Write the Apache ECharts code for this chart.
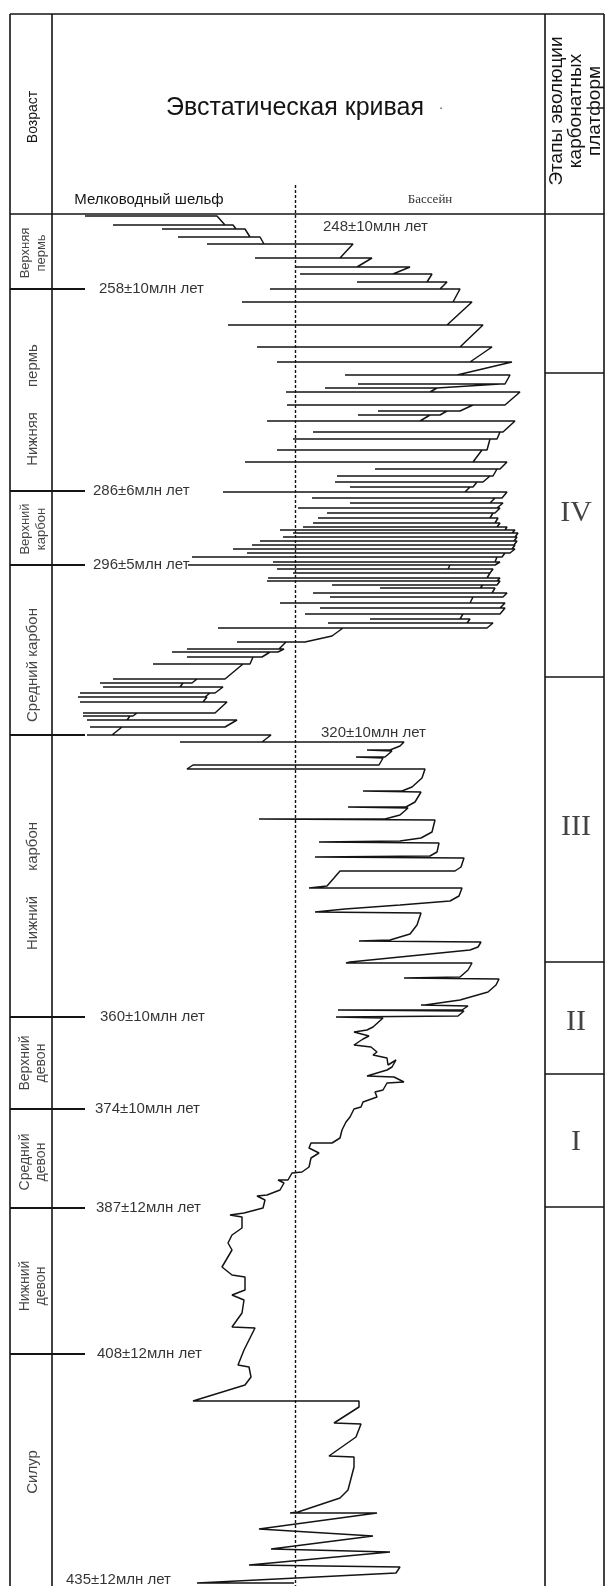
<!DOCTYPE html>
<html><head><meta charset="utf-8">
<script src="https://cdn.jsdelivr.net/npm/echarts@6/dist/echarts.min.js"></script>
<style>html,body{margin:0;padding:0;background:#fff}#c{width:606px;height:1586px}</style>
</head><body><div id="c"></div>
<script>
// ---- data (x: shelf -> basin units, y: position down the section) ----
const periodNames = ['Верхняя\nпермь', 'Нижняя      пермь', 'Верхний\nкарбон', 'Средний карбон',
  'Нижний      карбон', 'Верхний\nдевон', 'Средний\nдевон', 'Нижний\nдевон', 'Силур'];
const periodLabelAt = [39, 191, 315, 451, 672, 849, 948, 1072, 1258];
const periodBounds = [75, 277, 351, 521, 803, 895, 994, 1140];
const ageLabels = ['248±10млн лет', '258±10млн лет', '286±6млн лет', '296±5млн лет', '320±10млн лет',
  '360±10млн лет', '374±10млн лет', '387±12млн лет', '408±12млн лет', '435±12млн лет'];
const ageLabelAt = [[271, 13], [47, 75], [41, 277], [41, 351], [269, 519], [48, 803], [43, 895], [44, 994], [45, 1140], [14, 1366]];
const stageNames = ['IV', 'III', 'II', 'I'];
const stageLabelAt = [299, 613, 808, 928];
const stageBounds = [159, 463, 748, 860, 993];
const shelfBasinDivide = 243;
// Permian – Middle Carboniferous strokes: [position, arrival of previous hook, left tip, right tip]
const permianCarbStrokes = [
  [2,33,33,165],[11,173,61,181],[15,184,110,193],[23,198,126,208],[30,212,155,301],
  [44,288,203,320],[53,305,243,358],[60,341,248,380],[68,375,305,395],[75,388,218,408],
  [88,401,190,420],[111,395,176,431],[133,408,205,440],[148,418,225,460],[161,405,293,458],
  [170,453,306,448],[174,385,273,385],[178,378,234,468],[191,453,235,421],[197,408,326,395],
  [201,388,306,378],[207,368,215,463],[218,451,261,448],[225,445,241,438],[236,435,225,430],
  [248,421,193,455],[255,448,323,445],[262,441,285,438],[268,431,283,425],[273,421,298,418],
  [278,413,171,455],[284,450,260,443],[289,438,298,451],[294,445,246,448],[299,443,275,441],
  [304,438,266,446],[309,443,261,448],[313,445,251,455],[316,453,228,463],[319,460,241,466],
  [323,463,231,465],[327,462,208,465],[331,462,200,463],[335,460,181,463],[339,458,195,453],
  [343,450,140,445],[348,443,221,448],[351,443,136,398],[355,396,225,441],[359,438,241,438],
  [364,435,216,448],[367,445,215,448],[371,445,280,431],[374,428,328,443],[379,440,261,455],
  [383,451,278,421],[389,418,228,453],[394,448,268,453],[400,448,253,411],[405,408,318,418],
  [409,415,276,441],[414,435,166,291],[422,280,280,280],[428,253,185,234],[435,227,135,232],[438,226,120,218],
  [443,210,135,201],[450,198,101,191],[465,173,61,145],[469,140,48,131],[473,128,51,171],
  [479,163,28,158],[483,153,26,155],[488,151,28,175],[499,163,31,85],[502,81,31,78],
  [506,75,35,185],[513,173,38,70],[521,60,35,219]
];
// Lower Carboniferous curve, read point by point
const lowerCarbCurve = [
  [210,528],[128,528],[352,528],[348,532],[338,536],[315,536],[340,537],[333,543],[304,543],[331,544],
  [327,551],[141,551],[135,555],[373,555],[370,564],[360,573],[350,577],[311,577],[369,578],
  [363,588],[354,593],[296,593],[356,594],[348,601],[333,605],[207,605],[383,606],
  [380,618],[369,624],[348,627],[267,628],[387,629],[385,638],[378,642],[263,643],[412,644],
  [409,653],[403,657],[288,657],[282,664],[275,672],[257,674],[410,674],
  [407,682],[398,687],[348,691],[293,695],[263,698],[369,699],
  [365,711],[358,720],[338,726],[307,727],[429,728],
  [426,733],[418,736],[348,743],[298,748],[294,749],[420,749],
  [416,756],[408,763],[352,764],[447,765],
  [444,771],[436,778],[408,786],[373,791],[369,791],[416,792],
  [410,796],[286,796],[412,797],[406,802],[284,803],[331,804]
];
const devonianCurve = [
  [321,813],[315,816],[302,818],[317,822],[311,825],[302,831],[319,833],[325,838],
  [321,841],[335,844],[336,851],[344,846],[340,853],[335,856],[315,862],[342,863],[352,868],
  [335,869],[331,876],[323,878],[325,883],[311,888],[309,893],[302,895],[298,903],[294,908],
  [290,916],[288,924],[280,929],[259,929],[257,934],[267,939],[259,944],[257,953],[250,958],
  [240,959],[236,966],[226,966],[232,969],[228,976],[215,981],[205,982],[213,986],[211,994],
  [192,999],[178,1001],[190,1003],[190,1014],[180,1021],[176,1029],[180,1036],[170,1053],
  [180,1061],[193,1063],[193,1076],[180,1081],[192,1086],[190,1099],[180,1113],[203,1114],
  [192,1136],[186,1151],[197,1153],[199,1163],[193,1171],[141,1187]
];
const silurianCurve = [
  [307,1187],[307,1193],[282,1209],[309,1210],[304,1223],[277,1242],[302,1243],[302,1253],
  [296,1276],[288,1284],[273,1289],[246,1298],[238,1299],[325,1299],[207,1315],[321,1322],
  [219,1335],[338,1338],[197,1351],[348,1353],[344,1359],[145,1369],[242,1369]
];

// ---- build ----
const curve = [];
permianCarbStrokes.forEach(([y, a, l, r]) => { curve.push([a, y], [l, y], [r, y]); });
lowerCarbCurve.concat(devonianCurve, silurianCurve).forEach(p => curve.push(p));

const INK = '#141414';
const X0 = -42, X1 = 552, Y0 = -200, Y1 = 1372, MAIN_L = 0, MAIN_R = 493;
const frameLine = (a, b, w) => [{coord: a, lineStyle: {color: INK, width: w || 1.6, type: 'solid'}}, {coord: b}];
const markData = [];
[X0, MAIN_L, MAIN_R, X1].forEach(v => markData.push(frameLine([v, Y0], [v, Y1])));
[Y0, 0].forEach(v => markData.push(frameLine([X0, v], [X1, v])));
periodBounds.forEach(v => markData.push(frameLine([X0, v], [33, v], 1.8)));
stageBounds.forEach(v => markData.push(frameLine([MAIN_R, v], [X1, v], 1.6)));
markData.push([{coord: [shelfBasinDivide, -29], lineStyle: {color: INK, width: 1.4, type: [3, 2]}}, {coord: [shelfBasinDivide, Y1]}]);

const chart = echarts.init(document.getElementById('c'), null, {renderer: 'canvas'});
const axisOff = {show: false};
chart.setOption({
  animation: false,
  backgroundColor: '#fff',
  grid: {left: 10, top: 14, width: 594, height: 1572, containLabel: false},
  xAxis: {type: 'value', min: X0, max: X1, ...axisOff},
  yAxis: {type: 'value', min: Y0, max: Y1, inverse: true, ...axisOff},
  graphic: [
    {type: 'text', x: 33, y: 117, rotation: Math.PI / 2, style: {text: 'Возраст', fill: INK, font: '14px "Liberation Sans", Arial', align: 'center', verticalAlign: 'middle'}},
    {type: 'text', x: 295, y: 108, style: {text: 'Эвстатическая кривая', fill: INK, font: '25px "Liberation Sans", Arial', align: 'center', verticalAlign: 'middle'}},
    {type: 'text', x: 441, y: 108, style: {text: '·', fill: '#555', font: '14px "Liberation Sans", Arial', align: 'center', verticalAlign: 'middle'}},
    {type: 'text', x: 149, y: 200, style: {text: 'Мелководный шельф', fill: INK, font: '15px "Liberation Sans", Arial', align: 'center', verticalAlign: 'middle'}},
    {type: 'text', x: 430, y: 200, style: {text: 'Бассейн', fill: '#333', font: '13px "Liberation Serif", serif', align: 'center', verticalAlign: 'middle'}},
    {type: 'text', x: 576, y: 111, rotation: Math.PI / 2, style: {text: 'Этапы эволюции\nкарбонатных\nплатформ', fill: INK, font: '19px "Liberation Sans", Arial', align: 'center', verticalAlign: 'middle', lineHeight: 19}}
  ],
  series: [
    {
      type: 'line', data: curve, showSymbol: false, symbol: 'none', silent: true,
      lineStyle: {color: INK, width: 1.5}, z: 3
    },
    {
      type: 'scatter', symbolSize: 0, silent: true, z: 4,
      data: ageLabelAt.map((p, i) => ({value: p, label: {formatter: ageLabels[i]}})),
      label: {show: true, position: 'right', distance: 0, color: '#000', fontSize: 15, fontFamily: '"Liberation Sans", Arial'},
      markLine: {silent: true, symbol: ['none', 'none'], label: {show: false}, data: markData, animation: false}
    },
    {
      type: 'scatter', symbolSize: 0, silent: true,
      data: periodNames.map((n, i) => ({value: [-19, periodLabelAt[i]], label: {formatter: n, fontSize: n.includes('\n') ? (n.includes('девон') ? 14 : 13) : 15}})),
      label: {show: true, position: 'inside', rotate: 90, color: INK, fontFamily: '"Liberation Sans", Arial', lineHeight: 16, align: 'center', verticalAlign: 'middle'}
    },
    {
      type: 'scatter', symbolSize: 0, silent: true,
      data: stageNames.map((n, i) => ({value: [524, stageLabelAt[i]], label: {formatter: n}})),
      label: {show: true, position: 'inside', color: INK, fontSize: 30, fontFamily: '"Liberation Serif", serif'}
    }
  ]
});
</script></body></html>
